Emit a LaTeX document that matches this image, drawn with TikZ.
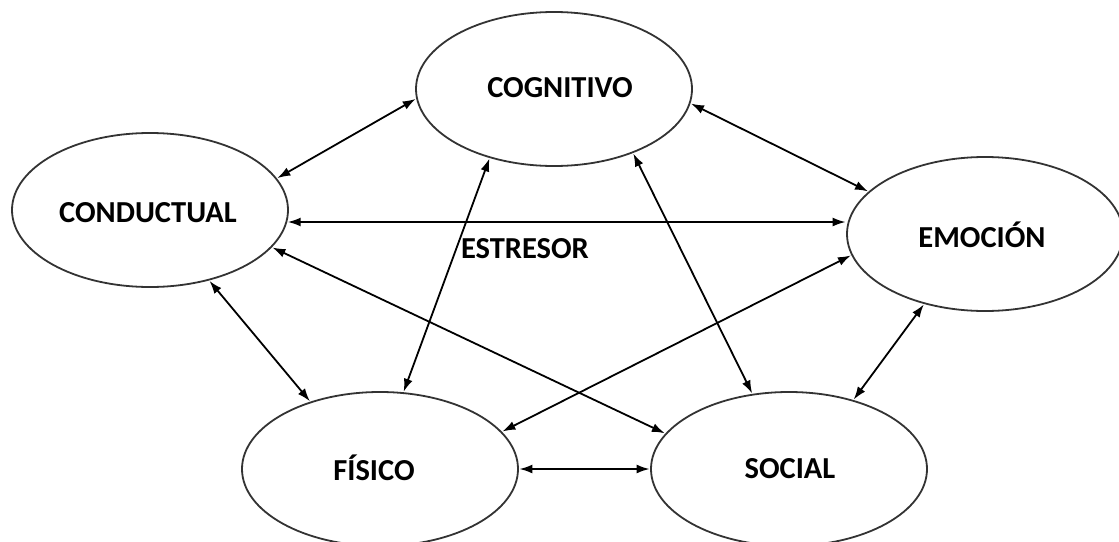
\documentclass[tikz,border=0pt]{standalone}
\usepackage{fontspec}
\setmainfont{Carlito}
\usetikzlibrary{shapes.geometric,arrows.meta}
\begin{document}
\begin{tikzpicture}[x=1pt,y=1pt,
  oval/.style={draw=black!80, line width=1.8pt, ellipse, inner sep=0pt,
    minimum width=276pt, minimum height=154pt},
  lab/.style={font=\fontsize{30.5}{36}\selectfont\bfseries, text=black},
  link/.style={line width=1.8pt, {Latex[length=13pt,width=9pt]}-{Latex[length=13pt,width=9pt]}, shorten <=0.5pt, shorten >=0.5pt}]
\useasboundingbox (0,0) rectangle (1119,-541);
\node[oval] (cog) at (554,-89) {};
\node[oval] (con) at (150,-210) {};
\node[oval] (emo) at (985,-234) {};
\node[oval] (fis) at (380,-469) {};
\node[oval] (soc) at (789,-469) {};
\node[lab] (tcog) at (560,-88) {COGNITIVO};
\node[lab] (tcon) at (148,-213) {CONDUCTUAL};
\node[lab] (temo) at (982,-235) {EMOCIÓN};
\node[lab] (tfis) at (374,-468) {FÍSICO};
\node[lab] (tsoc) at (790,-469) {SOCIAL};
\node[lab] (est) at (525,-249) {ESTRESOR};
\draw[link] (con.14) -- (cog.184.6);
\draw[link] (cog.-6.6) -- (emo.160.3);
\draw[link] (con.-5.4) -- (con.-5.4 -| emo.west);
\draw[link] (con.-17.7) -- (soc.164.8);
\draw[link] (con.-50) -- (fis.136);
\draw[link] (cog.-133.3) -- (fis.73.4);
\draw[link] (cog.-39.7) -- (soc.116);
\draw[link] (emo.189) -- (fis.17.6);
\draw[link] (emo.229) -- (soc.47.6);
\draw[link] (fis.east) -- (soc.west);
\end{tikzpicture}
\end{document}
